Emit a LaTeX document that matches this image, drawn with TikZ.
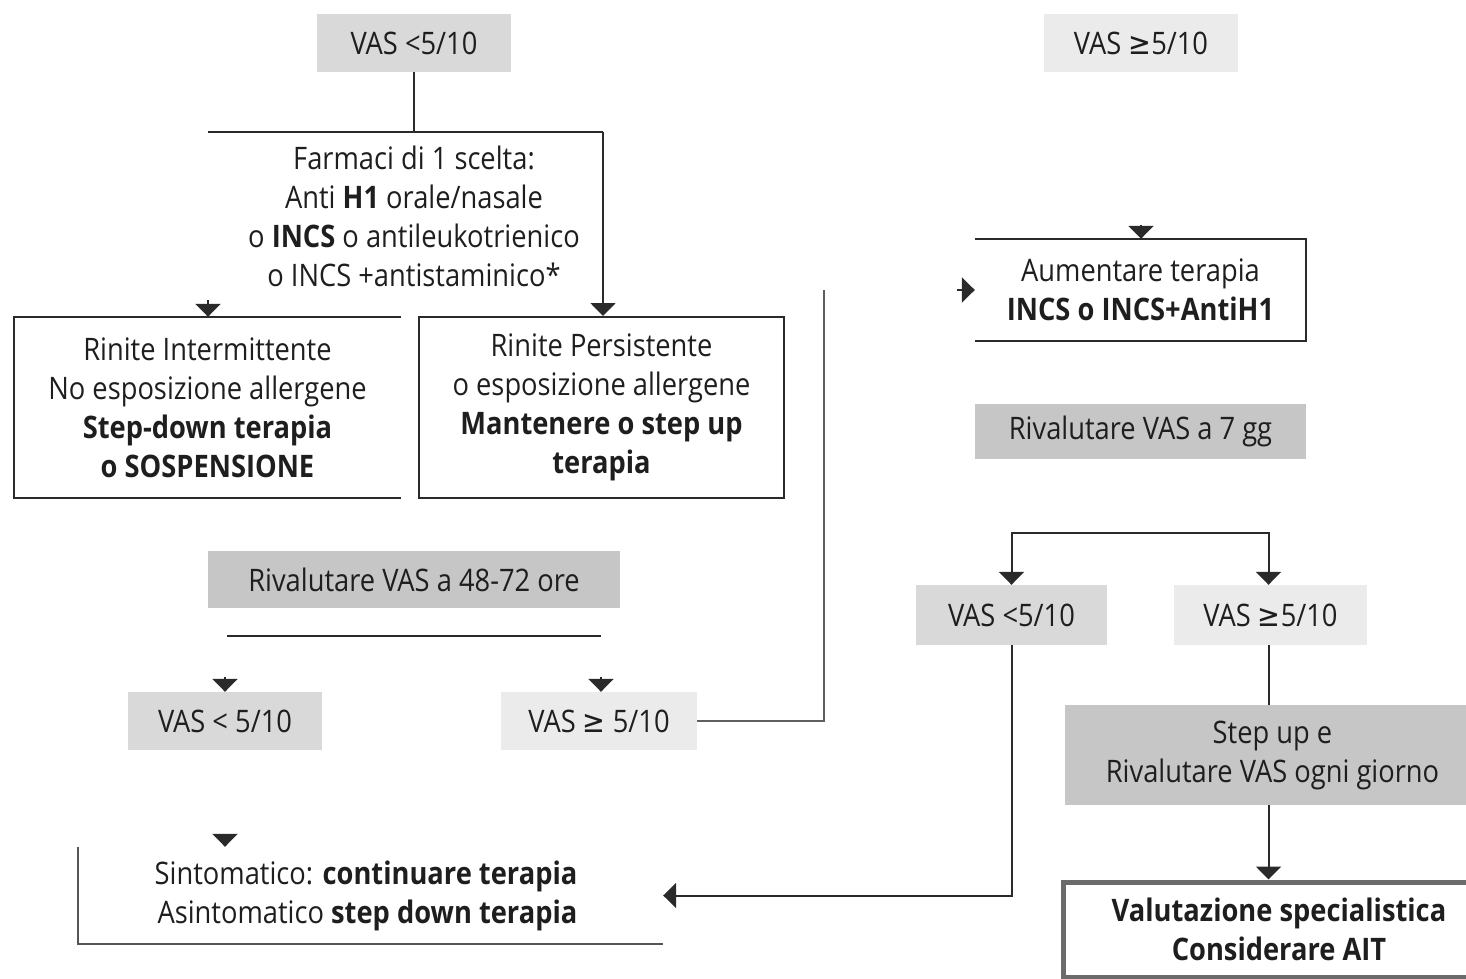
\documentclass[tikz,border=0pt]{standalone}
\usepackage{fontspec}
\setmainfont{Open Sans}[FakeStretch=0.88]
\newfontfamily\symf{DejaVu Sans}[FakeStretch=0.88]
\usetikzlibrary{arrows.meta}
\newcommand\gesym{{\symf ≥}}
\newcommand\fs{\fontsize{31}{39}\selectfont}
\definecolor{ink}{HTML}{1E1E1E}
\definecolor{fillA}{HTML}{D9D9D9}
\definecolor{fillB}{HTML}{EBEBEB}
\definecolor{fillC}{HTML}{C6C6C6}
\definecolor{wire}{HTML}{2A2A2A}
\tikzset{
  txt/.style={font=\fs, text=ink, inner sep=0pt, align=center},
  vasbox/.style={txt, minimum width=194pt, minimum height=58pt},
  lightA/.style={vasbox, fill=fillA},
  lightB/.style={vasbox, fill=fillB},
  darkbox/.style={txt, fill=fillC},
  frame/.style={draw=wire, line width=2pt},
  wireline/.style={draw=wire, line width=2pt},
  arr/.style={wireline, -{Triangle[width=25pt,length=13pt]}},
}
\begin{document}
\begin{tikzpicture}[x=1pt, y=-1pt]
\useasboundingbox (0,0) rectangle (1466,979);

% ---- left branch: VAS < 5/10 ----
\node[lightA] (vasA) at (414,43) {VAS <5/10};
\node[lightB] (vasB) at (1141,43) {VAS \gesym5/10};

\node[txt] (farm) at (414,216) {Farmaci di 1 scelta:\\
  Anti \textbf{H1} orale/nasale\\
  o \textbf{INCS} o antileukotrienico\\
  o INCS +antistaminico*};

\coordinate (jn) at (414,132);
\coordinate (jl) at (208,132);
\coordinate (jr) at (603,132);
\draw[wireline] (vasA.south) -- (jn);
\draw[wireline] (jl) -- (jr);

\node[txt, minimum width=387pt, minimum height=181pt] (rinI) at (207.5,407.5)
  {Rinite Intermittente\\ No esposizione allergene\\
   \textbf{Step-down terapia}\\ \textbf{o SOSPENSIONE}};
\draw[frame] (rinI.north east) -- (rinI.north west) -- (rinI.south west) -- (rinI.south east);

\node[txt, frame, minimum width=365pt, minimum height=181pt] (rinP) at (601.5,407.5)
  {Rinite Persistente\\ o esposizione allergene\\
   \textbf{Mantenere o step up}\\ \textbf{terapia}};

\draw[arr] (jr) -- (jr |- rinP.north);
\coordinate (tA) at (208,300);
\draw[arr] (tA) -- (tA |- rinI.north);

\node[darkbox, minimum width=412pt, minimum height=57pt] (riv48) at (414,579.5)
  {Rivalutare VAS a 48-72 ore};

\coordinate (sl) at (227,636);
\coordinate (sr) at (601,636);
\draw[wireline] (sl) -- (sr);

\node[lightA] (vasC) at (225,721) {VAS < 5/10};
\node[lightB, minimum width=196pt] (vasD) at (599,721) {VAS \gesym{} 5/10};
\coordinate (tC) at (225,677);
\coordinate (tD) at (601,677);
\draw[arr] (tC) -- (tC |- vasC.north);
\draw[arr] (tD) -- (tD |- vasD.north);

% loop back up towards the right column
\coordinate (up) at (824,290);
\draw[wireline, line width=1.6pt, draw=wire!75] (vasD.east) -| (up);

% ---- bottom-left outcome ----
\node[minimum width=585pt, minimum height=97pt, inner sep=0pt] (sintbox) at (370.5,895.5) {};
\draw[wireline, line width=1.6pt, draw=wire!80] (sintbox.north west) -- (sintbox.south west) -- (sintbox.south east);
\node[txt, align=right] (sint) at (366,895.5)
  {Sintomatico: \textbf{continuare terapia}\\ Asintomatico \textbf{step down terapia}};
\coordinate (tS) at (225,834);
\draw[arr] (tS) -- (tS |- sintbox.north);

% ---- right branch: VAS >= 5/10 ----
\node[txt, minimum width=331pt, minimum height=102pt] (aum) at (1140.5,290)
  {Aumentare terapia\\ \textbf{INCS o INCS+AntiH1}};
\draw[frame] (aum.north west) -- (aum.north east) -- (aum.south east) -- (aum.south west);
\coordinate (tT) at (1141,225);
\draw[arr] (tT) -- (tT |- aum.north);
\coordinate (tL) at (957,290);
\draw[arr] (tL) -- (aum.west);

\node[darkbox, minimum width=331pt, minimum height=55pt] (riv7) at (1140.5,431.5)
  {Rivalutare VAS a 7 gg};

\node[lightA, minimum width=191pt, minimum height=60pt] (vasE) at (1011.5,615) {VAS <5/10};
\node[lightB, minimum width=193pt, minimum height=60pt] (vasF) at (1270.5,615) {VAS \gesym5/10};

\coordinate (fk) at (1140,533);
\draw[arr] (fk) -| (vasE.north);
\draw[arr] (fk) -| ([xshift=-2pt]vasF.north);

\node[darkbox, minimum width=415pt, minimum height=100pt] (step) at (1272.5,755)
  {Step up e\\ Rivalutare VAS ogni giorno};
\node[txt, draw=black!58, line width=5pt, minimum width=432pt, minimum height=95pt] (valut) at (1279,929.5)
  {\textbf{Valutazione specialistica}\\ \textbf{Considerare AIT}};

\draw[wireline] ([xshift=-2pt]vasF.south) -- ([xshift=-2pt]vasF.south |- step.north);
\draw[arr] ([xshift=-4pt]step.south) -- ([xshift=-4pt]step.south |- valut.north);

\draw[arr] (vasE.south) |- (sintbox.east);
\end{tikzpicture}
\end{document}
